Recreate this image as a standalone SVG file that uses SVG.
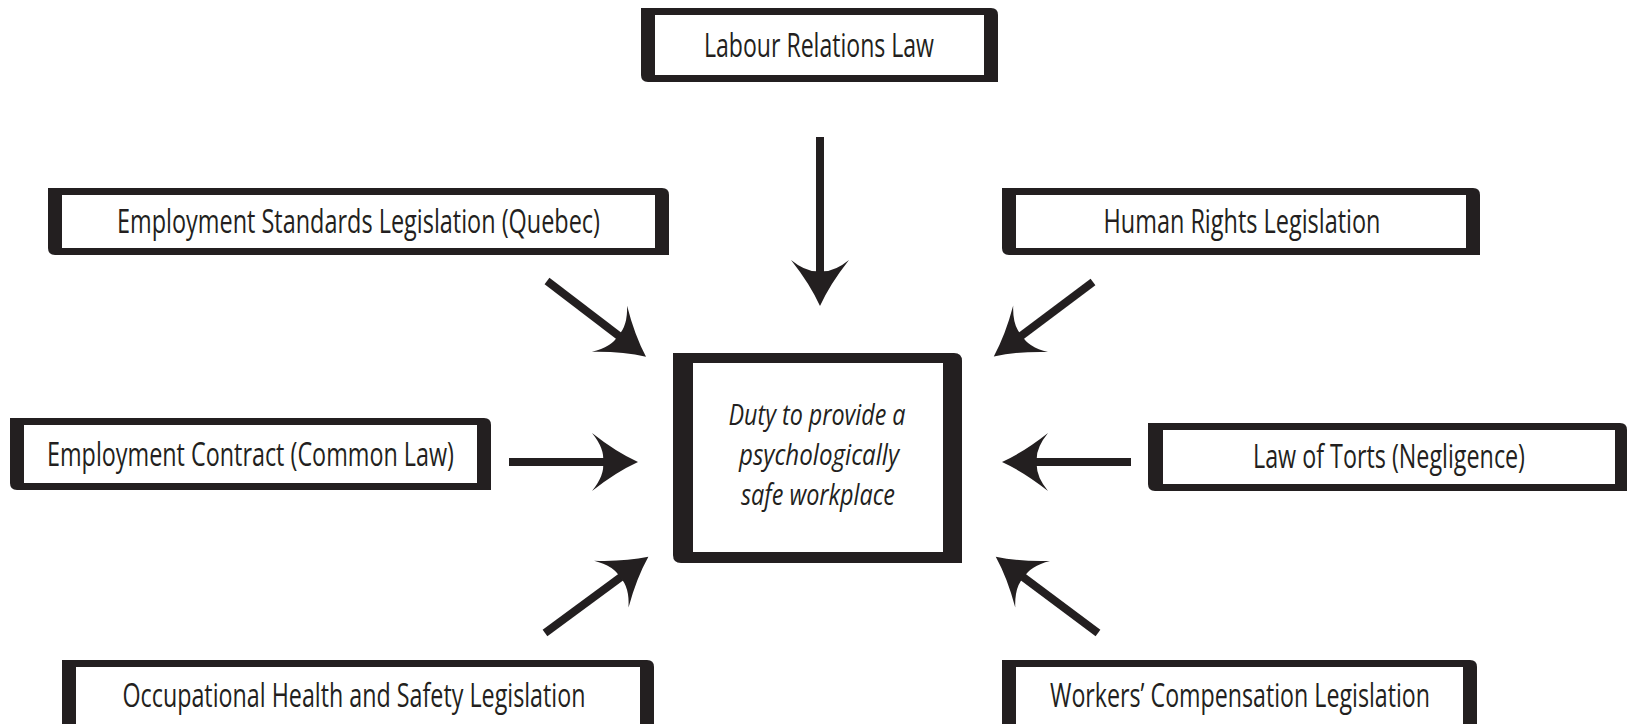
<svg xmlns="http://www.w3.org/2000/svg" width="1627" height="724" viewBox="0 0 1627 724">
<style>
.frame{fill:#231f20}
.inner{fill:#ffffff}
.lbl{font-family:"Open Sans","Liberation Sans",sans-serif;font-size:33px;fill:#231f20;text-anchor:middle}
.ctr{font-family:"Open Sans","Liberation Sans",sans-serif;font-size:29px;font-style:italic;fill:#231f20;text-anchor:middle}
.arr{stroke:#231f20;stroke-width:8;fill:none;marker-end:url(#head)}
</style>
<defs>
<marker id="head" markerUnits="userSpaceOnUse" viewBox="-2 -32 52 64" refX="12" refY="0" markerWidth="52" markerHeight="64" orient="auto">
<path d="M46,0 Q24,-10 0,-29 Q13,-13 11,0 Q13,13 0,29 Q24,10 46,0 Z" fill="#231f20"/>
</marker>
</defs>
<rect width="1627" height="724" fill="#ffffff"/>
<g id="connectors">
<line class="arr" x1="820" y1="137" x2="820" y2="272"/>
<line class="arr" x1="547" y1="281" x2="619" y2="336"/>
<line class="arr" x1="1093" y1="282" x2="1021" y2="336"/>
<line class="arr" x1="509" y1="462" x2="604" y2="462"/>
<line class="arr" x1="1131" y1="462" x2="1036" y2="462"/>
<line class="arr" x1="545" y1="633" x2="621" y2="577"/>
<line class="arr" x1="1098" y1="633" x2="1023" y2="577"/>
</g>
<g id="labour">
<path class="frame" d="M641,8 H991 Q998,8 998,15 V82 H648 Q641,82 641,75 Z"/>
<rect class="inner" x="655" y="15" width="329" height="60"/>
<text class="lbl" x="819" y="57" textLength="230" lengthAdjust="spacingAndGlyphs">Labour Relations Law</text>
</g>
<g id="employment-standards">
<path class="frame" d="M48,188 H662 Q669,188 669,195 V255 H55 Q48,255 48,248 Z"/>
<rect class="inner" x="62" y="195" width="593" height="53"/>
<text class="lbl" x="358.5" y="233" textLength="483" lengthAdjust="spacingAndGlyphs">Employment Standards Legislation (Quebec)</text>
</g>
<g id="human-rights">
<path class="frame" d="M1002,188 H1473 Q1480,188 1480,195 V255 H1009 Q1002,255 1002,248 Z"/>
<rect class="inner" x="1016" y="195" width="450" height="53"/>
<text class="lbl" x="1242" y="233" textLength="277" lengthAdjust="spacingAndGlyphs">Human Rights Legislation</text>
</g>
<g id="duty">
<path class="frame" d="M673,353 H954 Q962,353 962,361 V563 H681 Q673,563 673,555 Z"/>
<rect class="inner" x="693" y="363" width="250" height="189"/>
<text class="ctr" x="817" y="425" textLength="177" lengthAdjust="spacingAndGlyphs">Duty to provide a</text>
<text class="ctr" x="819" y="465" textLength="160" lengthAdjust="spacingAndGlyphs">psychologically</text>
<text class="ctr" x="818" y="505" textLength="154" lengthAdjust="spacingAndGlyphs">safe workplace</text>
</g>
<g id="employment-contract">
<path class="frame" d="M10,418 H484 Q491,418 491,425 V490 H17 Q10,490 10,483 Z"/>
<rect class="inner" x="24" y="425" width="453" height="58"/>
<text class="lbl" x="250.5" y="466" textLength="407" lengthAdjust="spacingAndGlyphs">Employment Contract (Common Law)</text>
</g>
<g id="torts">
<path class="frame" d="M1148,423 H1620 Q1627,423 1627,430 V491 H1155 Q1148,491 1148,484 Z"/>
<rect class="inner" x="1163" y="430" width="452" height="54"/>
<text class="lbl" x="1389" y="468" textLength="272" lengthAdjust="spacingAndGlyphs">Law of Torts (Negligence)</text>
</g>
<g id="ohs">
<path class="frame" d="M62,660 H647 Q654,660 654,667 V740 H69 Q62,740 62,733 Z"/>
<rect class="inner" x="76" y="667" width="564" height="80"/>
<text class="lbl" x="354" y="707" textLength="463" lengthAdjust="spacingAndGlyphs">Occupational Health and Safety Legislation</text>
</g>
<g id="workers-comp">
<path class="frame" d="M1002,660 H1470 Q1477,660 1477,667 V740 H1009 Q1002,740 1002,733 Z"/>
<rect class="inner" x="1016" y="667" width="447" height="80"/>
<text class="lbl" x="1240" y="707" textLength="380" lengthAdjust="spacingAndGlyphs">Workers’ Compensation Legislation</text>
</g>
</svg>
